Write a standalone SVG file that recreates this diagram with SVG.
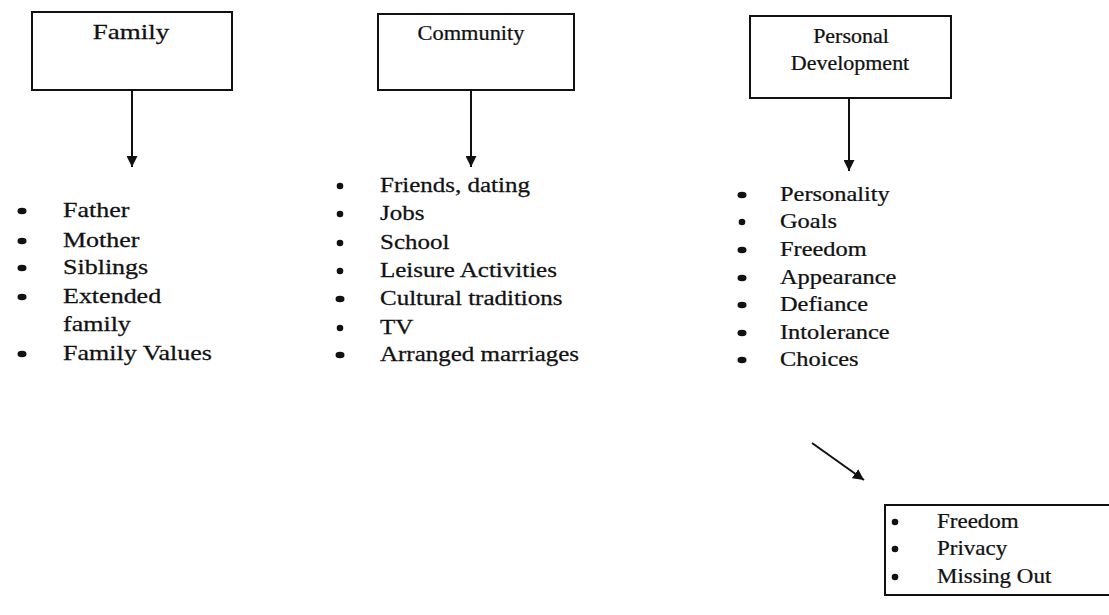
<svg xmlns="http://www.w3.org/2000/svg" width="1109" height="615" viewBox="0 0 1109 615">
<style>
text{font-family:"Liberation Serif","Times New Roman",serif;font-size:20px;fill:#111;stroke:#111;stroke-width:0.25}
.box{fill:#fff;stroke:#111;stroke-width:2}
.c{text-anchor:middle}
.ln{stroke:#111;stroke-width:2;fill:none}
.b{fill:#111}
</style>
<defs>
<marker id="ah" viewBox="0 0 10 10" refX="10" refY="5" markerWidth="5.5" markerHeight="5.5" orient="auto" markerUnits="strokeWidth">
<path d="M0,0 L10,5 L0,10 z" fill="#111"/>
</marker>
</defs>
<rect width="1109" height="615" fill="#fff"/>
<g id="family">
<rect class="box" x="32" y="12" width="200" height="78"/>
<text class="c" transform="translate(131 39) scale(1.35 1)" x="0" y="0">Family</text>
</g>
<g id="community">
<rect class="box" x="378" y="14" width="196" height="76"/>
<text class="c" transform="translate(471 40) scale(1.12 1)" x="0" y="0">Community</text>
</g>
<g id="personal">
<rect class="box" x="750" y="16" width="201" height="82"/>
<text class="c" transform="translate(851 43) scale(1.1 1)" x="0" y="0">Personal</text>
<text class="c" transform="translate(850 70) scale(1.1 1)" x="0" y="0">Development</text>
</g>
<g id="connectors">
<line class="ln" x1="132" y1="90" x2="132" y2="167" marker-end="url(#ah)"/>
<line class="ln" x1="471" y1="90" x2="471" y2="167" marker-end="url(#ah)"/>
<line class="ln" x1="849" y1="98" x2="849" y2="171" marker-end="url(#ah)"/>
<line class="ln" x1="812" y1="443" x2="864" y2="480" marker-end="url(#ah)"/>
</g>
<g id="family-list">
<ellipse class="b" cx="22" cy="211" rx="4.5" ry="3.3"/>
<ellipse class="b" cx="22" cy="241" rx="4.5" ry="3.3"/>
<ellipse class="b" cx="22" cy="268" rx="4.5" ry="3.3"/>
<ellipse class="b" cx="22" cy="297" rx="4.5" ry="3.3"/>
<ellipse class="b" cx="22" cy="354" rx="4.5" ry="3.3"/>
<g transform="translate(63 0) scale(1.3 1)">
<text x="0" y="217">Father</text>
<text x="0" y="247">Mother</text>
<text x="0" y="274">Siblings</text>
<text x="0" y="303">Extended</text>
<text x="0" y="331">family</text>
<text x="0" y="360">Family Values</text>
</g>
</g>
<g id="community-list">
<ellipse class="b" cx="340" cy="186" rx="3.3" ry="3.3"/>
<ellipse class="b" cx="340" cy="214" rx="3.3" ry="3.3"/>
<ellipse class="b" cx="340" cy="243" rx="3.3" ry="3.3"/>
<ellipse class="b" cx="340" cy="271" rx="3.3" ry="3.3"/>
<ellipse class="b" cx="340" cy="299" rx="4.5" ry="3.3"/>
<ellipse class="b" cx="340" cy="328" rx="3.3" ry="3.3"/>
<ellipse class="b" cx="340" cy="355" rx="4.5" ry="3.3"/>
<g transform="translate(380 0) scale(1.25 1)">
<text x="0" y="192">Friends, dating</text>
<text x="0" y="220">Jobs</text>
<text x="0" y="249">School</text>
<text x="0" y="277">Leisure Activities</text>
<text x="0" y="305">Cultural traditions</text>
<text x="0" y="334">TV</text>
<text x="0" y="361">Arranged marriages</text>
</g>
</g>
<g id="personal-list">
<ellipse class="b" cx="742" cy="195" rx="4.5" ry="3.3"/>
<ellipse class="b" cx="742" cy="222" rx="3.3" ry="3.3"/>
<ellipse class="b" cx="742" cy="250" rx="4.5" ry="3.3"/>
<ellipse class="b" cx="742" cy="278" rx="4.5" ry="3.3"/>
<ellipse class="b" cx="742" cy="305" rx="4.5" ry="3.3"/>
<ellipse class="b" cx="742" cy="333" rx="4.5" ry="3.3"/>
<ellipse class="b" cx="742" cy="360" rx="4.5" ry="3.3"/>
<g transform="translate(780 0) scale(1.22 1)">
<text x="0" y="201">Personality</text>
<text x="0" y="228">Goals</text>
<text x="0" y="256">Freedom</text>
<text x="0" y="284">Appearance</text>
<text x="0" y="311">Defiance</text>
<text x="0" y="339">Intolerance</text>
<text x="0" y="366">Choices</text>
</g>
</g>
<g id="choices-box">
<path class="ln" d="M1109,505 L885,505 L885,595 L1109,595"/>
<ellipse class="b" cx="895" cy="522" rx="3.3" ry="3.3"/>
<ellipse class="b" cx="895" cy="549" rx="3.3" ry="3.3"/>
<ellipse class="b" cx="895" cy="577" rx="3.3" ry="3.3"/>
<g transform="translate(937 0) scale(1.15 1)">
<text x="0" y="528">Freedom</text>
<text x="0" y="555">Privacy</text>
<text x="0" y="583">Missing Out</text>
</g>
</g>
</svg>
